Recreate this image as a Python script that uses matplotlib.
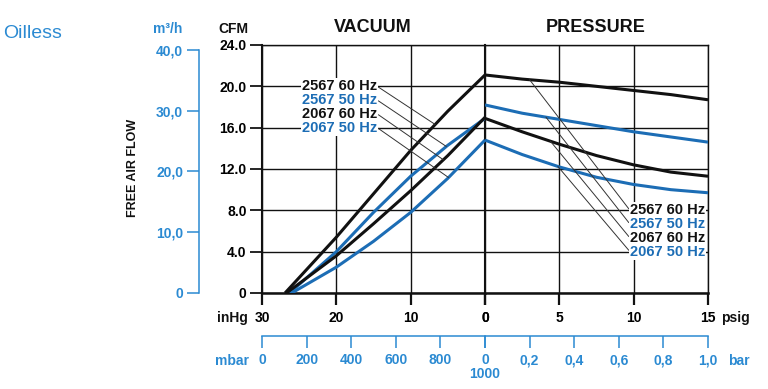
import numpy as np
import matplotlib
matplotlib.use("Agg")
import matplotlib.pyplot as plt

plt.rcParams['font.family'] = ['Liberation Sans', 'DejaVu Sans']

BLACK = '#111111'
BLUE = '#1c6db5'
LBLUE = '#2b8ad2'

# vacuum side (inHg) -> CFM
vac_inhg_2567_60 = [26.9, 20, 15, 10, 5, 0]
vac_cfm_2567_60 = [0, 5.4, 9.6, 13.8, 17.6, 21.1]
vac_inhg_2567_50 = [26.3, 20, 15, 10, 5, 0]
vac_cfm_2567_50 = [0, 4.0, 7.8, 11.3, 14.3, 16.9]
vac_inhg_2067_60 = [26.7, 20, 15, 10, 5, 0]
vac_cfm_2067_60 = [0, 3.6, 6.7, 9.9, 13.3, 17.0]
vac_inhg_2067_50 = [26.0, 20, 15, 10, 5, 0]
vac_cfm_2067_50 = [0, 2.5, 5.0, 7.8, 11.1, 14.8]

# pressure side (psig) -> CFM
psig = [0, 2.5, 5, 7.5, 10, 12.5, 15]
prs_cfm_2567_60 = [21.1, 20.7, 20.4, 20.0, 19.6, 19.2, 18.7]
prs_cfm_2567_50 = [18.2, 17.4, 16.8, 16.2, 15.6, 15.1, 14.6]
prs_cfm_2067_60 = [16.9, 15.6, 14.4, 13.3, 12.4, 11.7, 11.3]
prs_cfm_2067_50 = [14.8, 13.4, 12.2, 11.2, 10.5, 10.0, 9.7]

names = ['2567 60 Hz', '2567 50 Hz', '2067 60 Hz', '2067 50 Hz']
colors = [BLACK, BLUE, BLACK, BLUE]

cfm_ticks = [0, 4, 8, 12, 16, 20, 24]
cfm_labels = ['0', '4.0', '8.0', '12.0', '16.0', '20.0', '24.0']
m3h_ticks = [0, 10, 20, 30, 40]
m3h_labels = ['0', '10,0', '20,0', '30,0', '40,0']
mbar_ticks = [0, 200, 400, 600, 800, 1000]
mbar_labels = ['0', '200', '400', '600', '800', '0\n1000']
bar_ticks = [0, 0.2, 0.4, 0.6, 0.8, 1.0]
bar_labels = ['', '0,2', '0,4', '0,6', '0,8', '1,0']

W, H = 768, 389
fig = plt.figure(figsize=(W / 100, H / 100), dpi=100)


def box(x0, y0, x1, y1):
    return [x0 / W, 1 - y1 / H, (x1 - x0) / W, (y1 - y0) / H]


ax_v = fig.add_axes(box(262, 45, 485, 293))
ax_p = fig.add_axes(box(485, 45, 708, 293))

for ax in (ax_v, ax_p):
    ax.set_ylim(0, 24)
    ax.set_yticks(cfm_ticks)
    ax.grid(True, color=BLACK, lw=1.0)
    ax.set_axisbelow(True)
    for s in ax.spines.values():
        s.set_color(BLACK)
        s.set_linewidth(1.0)
    ax.spines['bottom'].set_linewidth(1.8)
    ax.tick_params(axis='x', direction='out', length=8.6, width=1.6,
                   pad=4.5, labelsize=10, color=BLACK)

ax_v.set_xlim(30, 0)
ax_v.set_xticks([30, 20, 10, 0])
ax_v.set_xticklabels(['30', '20', '10', '0'], fontweight='bold')
ax_v.set_yticklabels(cfm_labels, fontweight='bold')
ax_v.tick_params(axis='y', direction='out', length=8.6, width=1.2,
                 pad=2.5, labelsize=10)
ax_v.spines['left'].set_linewidth(1.5)
ax_v.spines['right'].set_linewidth(1.5)

ax_p.set_xlim(0, 15)
ax_p.set_xticks([0, 5, 10, 15])
ax_p.set_xticklabels(['0', '5', '10', '15'], fontweight='bold')
ax_p.tick_params(axis='y', left=False, labelleft=False)
ax_p.spines['left'].set_visible(False)

# curves
vac = [(vac_inhg_2567_60, vac_cfm_2567_60), (vac_inhg_2567_50, vac_cfm_2567_50),
       (vac_inhg_2067_60, vac_cfm_2067_60), (vac_inhg_2067_50, vac_cfm_2067_50)]
prs = [prs_cfm_2567_60, prs_cfm_2567_50, prs_cfm_2067_60, prs_cfm_2067_50]
for (x, y), c in zip(vac, colors):
    ax_v.plot(x, y, color=c, lw=2.2, zorder=3, solid_capstyle='butt')
for y, c in zip(prs, colors):
    ax_p.plot(psig, y, color=c, lw=2.2, zorder=3, solid_capstyle='butt')

# callout labels
lab_y = [20.0, 18.67, 17.33, 16.0]
vac_pts = [6.7, 5.2, 5.6, 4.9]
prs_pts = [3.0, 4.1, 4.4, 4.9]
lab_y_p = [8.0, 6.67, 5.33, 4.0]
bb = dict(boxstyle='square,pad=0.08', fc='white', ec='none')
for i in range(4):
    x, y = vac[i]
    yv = np.interp(vac_pts[i], x[::-1], y[::-1])
    ax_v.annotate(names[i], xy=(vac_pts[i], yv), xytext=(14.5, lab_y[i]),
                  ha='right', va='center', color=colors[i], zorder=4,
                  fontsize=10.5, fontweight='bold', bbox=bb,
                  arrowprops=dict(arrowstyle='-', color='#333333', lw=0.7,
                                  shrinkA=0, shrinkB=0, relpos=(1, 0.5)))
    yp = np.interp(prs_pts[i], psig, prs[i])
    ax_p.annotate(names[i], xy=(prs_pts[i], yp), xytext=(9.75, lab_y_p[i]),
                  ha='left', va='center', color=colors[i], zorder=4,
                  fontsize=10.5, fontweight='bold', bbox=bb,
                  arrowprops=dict(arrowstyle='-', color='#333333', lw=0.7,
                                  shrinkA=0, shrinkB=0, relpos=(0, 0.5)))

# m3/h axis
sec_y = ax_v.secondary_yaxis((199 - 262) / 223,
                             functions=(lambda c: c * 1.699, lambda m: m / 1.699))
sec_y.set_yticks(m3h_ticks)
sec_y.set_yticklabels(m3h_labels, fontweight='bold', color=LBLUE)
sec_y.tick_params(axis='y', direction='out', length=9, width=1.1,
                  color=LBLUE, pad=2.5, labelsize=10)
sec_y.spines['left'].set_color(LBLUE)
sec_y.spines['left'].set_linewidth(1.1)
sec_y.spines['left'].set_bounds(0, 40)

# mbar / bar axis
loc = (293 - 336) / 248
sec_v = ax_v.secondary_xaxis(loc, functions=(lambda h: 1000 * (1 - h / 30),
                                             lambda m: 30 * (1 - m / 1000)))
sec_p = ax_p.secondary_xaxis(loc, functions=(lambda p: p / 15, lambda b: b * 15))
sec_v.set_xticks(mbar_ticks)
sec_v.set_xticklabels(mbar_labels, fontweight='bold', color=LBLUE)
sec_p.set_xticks(bar_ticks)
sec_p.set_xticklabels(bar_labels, fontweight='bold', color=LBLUE)
for s in (sec_v, sec_p):
    s.tick_params(axis='x', direction='out', length=8.5, width=1.1,
                  color=LBLUE, pad=4, labelsize=10)
    s.spines['bottom'].set_color(LBLUE)
    s.spines['bottom'].set_linewidth(1.1)
    for lbl in s.get_xticklabels():
        lbl.set_linespacing(0.95)


def ftext(x, y, s, **kw):
    fig.text(x / W, 1 - y / H, s, **kw)


ftext(3, 33, 'Oilless', color=LBLUE, fontsize=14, ha='left', va='center')
ftext(168, 29, 'm³/h', color=LBLUE, fontsize=10, fontweight='bold', ha='center', va='center')
ftext(233, 29, 'CFM', color=BLACK, fontsize=10, fontweight='bold', ha='center', va='center')
ftext(373, 27, 'VACUUM', color=BLACK, fontsize=13, fontweight='bold', ha='center', va='center')
ftext(596, 27, 'PRESSURE', color=BLACK, fontsize=13, fontweight='bold', ha='center', va='center')
ftext(133, 168, 'FREE AIR FLOW', color=BLACK, fontsize=9, fontweight='bold',
      ha='center', va='center', rotation=90)
ftext(248, 318, 'inHg', color=BLACK, fontsize=10, fontweight='bold', ha='right', va='center')
ftext(721, 318, 'psig', color=BLACK, fontsize=10, fontweight='bold', ha='left', va='center')
ftext(249, 361, 'mbar', color=LBLUE, fontsize=10, fontweight='bold', ha='right', va='center')
ftext(728, 361, 'bar', color=LBLUE, fontsize=10, fontweight='bold', ha='left', va='center')

fig.savefig('out.png', dpi=100, facecolor='white')
